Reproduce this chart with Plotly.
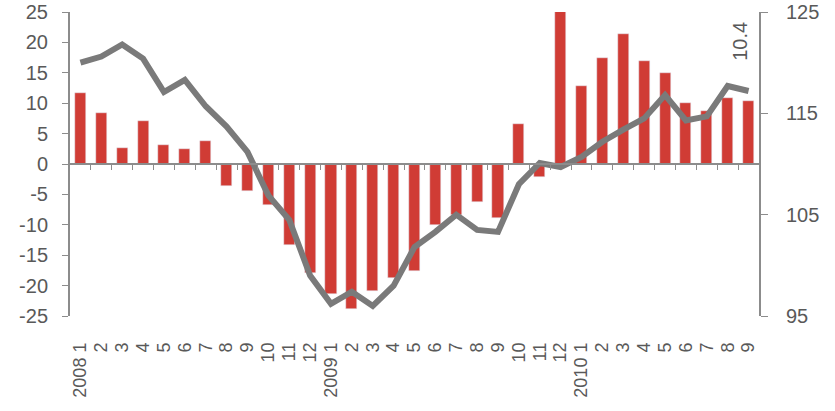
import plotly.graph_objects as go

# month labels (2008 1 .. 2010 9)
tick_labels = ["2008 1", "2", "3", "4", "5", "6", "7", "8", "9", "10", "11", "12",
               "2009 1", "2", "3", "4", "5", "6", "7", "8", "9", "10", "11", "12",
               "2010 1", "2", "3", "4", "5", "6", "7", "8", "9"]

# bars, left axis (% change)
bar_values = [11.6, 8.4, 2.6, 7.0, 3.2, 2.5, 3.8, -3.6, -4.4, -6.7, -13.3, -18.0,
              -21.4, -23.8, -20.9, -18.8, -17.6, -10.0, -8.4, -6.3, -8.9, 6.5, -2.2, 25.2,
              12.8, 17.5, 21.4, 16.9, 15.0, 10.0, 8.8, 10.9, 10.4]

# line, right axis (index)
line_values = [120.0, 120.6, 121.8, 120.4, 117.1, 118.3, 115.7, 113.7, 111.2, 106.9, 104.5, 99.0,
               96.2, 97.4, 96.0, 98.0, 101.8, 103.3, 105.0, 103.5, 103.3, 108.0, 110.1, 109.7,
               110.7, 112.2, 113.4, 114.5, 116.8, 114.3, 114.7, 117.7, 117.2]

left_ticks = [-25, -20, -15, -10, -5, 0, 5, 10, 15, 20, 25]
right_ticks = [95, 105, 115, 125]

n = len(tick_labels)
xs = list(range(n))

bar_color = '#D03C35'
line_color = '#7A7A7A'
axis_color = '#8C8C8C'
text_color = '#595959'
font_family = 'Liberation Sans, Arial, sans-serif'

fig = go.Figure()

fig.add_trace(go.Bar(x=xs, y=bar_values, marker_color=bar_color, width=0.53,
                     showlegend=False))

fig.add_trace(go.Scatter(x=xs, y=line_values, yaxis='y2', mode='lines',
                         line=dict(color=line_color, width=6), showlegend=False))

# invisible helper trace so the zero-line tick axis gets drawn
fig.add_trace(go.Scatter(x=xs, y=[0] * n, xaxis='x2', mode='none',
                         showlegend=False, hoverinfo='skip'))

fig.add_annotation(x=xs[-1], y=bar_values[-1], text=f"{bar_values[-1]}",
                   textangle=-90, showarrow=False, yanchor='bottom',
                   yshift=38, xshift=-8,
                   font=dict(size=20, color=text_color, family=font_family))

fig.update_layout(
    width=835,
    height=411,
    paper_bgcolor='white',
    plot_bgcolor='white',
    margin=dict(l=70, r=76, t=12, b=95),
    font=dict(family=font_family, color=text_color),
    bargap=0,
    xaxis=dict(
        range=[-0.5, n - 0.5], automargin=False,
        tickvals=xs, ticktext=tick_labels, tickangle=-90,
        showgrid=False, zeroline=False, showline=False, ticks='',
        ticklabelstandoff=22,
        tickfont=dict(size=18, color=text_color),
    ),
    xaxis2=dict(
        overlaying='x', anchor='free', position=0.5, side='bottom',
        range=[-0.5, n - 0.5], automargin=False,
        tickvals=[i + 0.5 for i in range(n - 1)],
        showticklabels=False, ticks='outside', ticklen=5, tickcolor=axis_color,
        showline=True, linecolor=axis_color, linewidth=2,
        showgrid=False, zeroline=False,
    ),
    yaxis=dict(
        range=[-25, 25], automargin=False,
        tickvals=left_ticks, ticktext=[str(v) for v in left_ticks],
        showgrid=False, zeroline=False,
        showline=True, linecolor=axis_color, linewidth=2,
        ticks='outside', ticklen=6, tickcolor=axis_color,
        ticklabelstandoff=10,
        tickfont=dict(size=20, color=text_color),
    ),
    yaxis2=dict(
        overlaying='y', side='right',
        range=[95, 125], automargin=False,
        tickvals=right_ticks,
        showgrid=False, zeroline=False,
        showline=True, linecolor=axis_color, linewidth=2,
        ticks='outside', ticklen=7, tickcolor=axis_color,
        ticklabelstandoff=14,
        tickfont=dict(size=20, color=text_color),
    ),
)

# drop the page's default body margin so the figure sits at the top-left corner
fig.write_html("out.html", config={'displayModeBar': False},
               post_script="document.body.style.margin = '0';")
